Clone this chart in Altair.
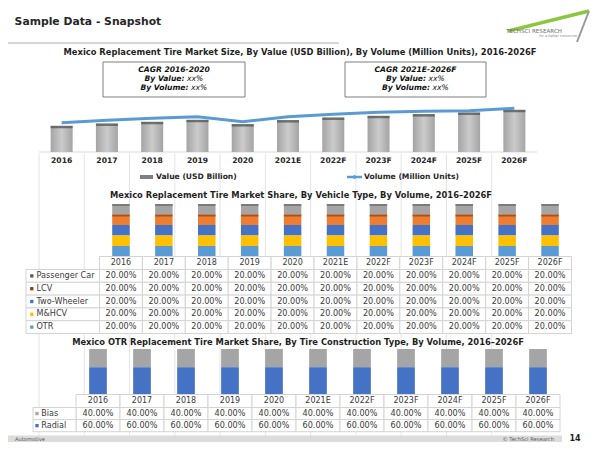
import altair as alt
import pandas as pd

FONT = "DejaVu Sans"
OX, OY = 8, 8  # page margin offset


def px(v):
    return v - OX


def py(v):
    return v - OY


# ---------------- data ----------------
years = ["2016", "2017", "2018", "2019", "2020", "2021E", "2022F", "2023F", "2024F", "2025F", "2026F"]
value_usd_bn = [2.60, 2.83, 3.00, 3.20, 2.77, 3.17, 3.43, 3.60, 3.77, 3.93, 4.20]
volume_mn_units = [29.3, 31.7, 33.7, 35.3, 30.3, 35.3, 37.7, 39.7, 40.7, 41.3, 43.7]

vehicle_types = ["Passenger Car", "LCV", "Two-Wheeler", "M&HCV", "OTR"]
share_passenger_car = [20.0, 20.0, 20.0, 20.0, 20.0, 20.0, 20.0, 20.0, 20.0, 20.0, 20.0]
share_lcv = [20.0, 20.0, 20.0, 20.0, 20.0, 20.0, 20.0, 20.0, 20.0, 20.0, 20.0]
share_two_wheeler = [20.0, 20.0, 20.0, 20.0, 20.0, 20.0, 20.0, 20.0, 20.0, 20.0, 20.0]
share_mhcv = [20.0, 20.0, 20.0, 20.0, 20.0, 20.0, 20.0, 20.0, 20.0, 20.0, 20.0]
share_otr = [20.0, 20.0, 20.0, 20.0, 20.0, 20.0, 20.0, 20.0, 20.0, 20.0, 20.0]
vehicle_fill = ["#A5A5A5", "#ED7D31", "#4472C4", "#FFC000", "#5B9BD5"]
vehicle_marker = ["#5A5A5A", "#8A3E12", "#4472C4", "#FFC000", "#5B9BD5"]

construction_types = ["Bias", "Radial"]
share_bias = [40.0, 40.0, 40.0, 40.0, 40.0, 40.0, 40.0, 40.0, 40.0, 40.0, 40.0]
share_radial = [60.0, 60.0, 60.0, 60.0, 60.0, 60.0, 60.0, 60.0, 60.0, 60.0, 60.0]
construction_fill = ["#A5A5A5", "#4472C4"]

slide_title = "Sample Data - Snapshot"
title_1 = "Mexico Replacement Tire Market Size, By Value (USD Billion), By Volume (Million Units), 2016-2026F"
title_2 = "Mexico Replacement Tire Market Share, By Vehicle Type, By Volume, 2016\u20132026F"
title_3 = "Mexico OTR Replacement Tire Market Share, By Tire Construction Type, By Volume, 2016\u20132026F"
legend_1 = ["Value (USD Billion)", "Volume (Million Units)"]
cagr_titles = ["CAGR 2016-2020", "CAGR 2021E-2026F"]

GRID = "#D4D4D4"
TXT = "#3A3A3A"
TITLE_SIZE = 8.35
dummy = pd.DataFrame({"k": [0]})


def text_at(s, x, y, size, weight="normal", style="normal", align="center", color="#1F1F1F"):
    return alt.Chart(dummy).mark_text(
        text=s, font=FONT, fontSize=size, fontWeight=weight, fontStyle=style,
        align=align, baseline="middle", color=color
    ).encode(x=alt.value(px(x)), y=alt.value(py(y)))


def box(x0, y0, x1, y1, fill, stroke=None, sw=1.0):
    kw = dict(fill=fill)
    if stroke:
        kw.update(stroke=stroke, strokeWidth=sw)
    return alt.Chart(dummy).mark_rect(**kw).encode(
        x=alt.value(px(x0)), x2=alt.value(px(x1)), y=alt.value(py(y0)), y2=alt.value(py(y1))
    )


def seg(x0, y0, x1, y1, color, sw):
    return alt.Chart(dummy).mark_rule(color=color, strokeWidth=sw).encode(
        x=alt.value(px(x0)), x2=alt.value(px(x1)), y=alt.value(py(y0)), y2=alt.value(py(y1))
    )


layers = []

# ---------------- header ----------------
layers.append(text_at(slide_title, 14.6, 22, 10.8, weight="bold", align="left", color="#262626"))
layers.append(seg(0, 43, 339, 43, "#C8C8C8", 1.5))
layers.append(seg(508, 31, 589, 11, "#8DC63F", 3.5))
layers.append(seg(589, 11, 577, 42, "#9A9A9A", 2))
layers.append(text_at("TECHSCI RESEARCH", 506, 30.5, 5.6, align="left", color="#707070"))
layers.append(text_at("for a better tomorrow", 577, 35.5, 3.5, style="italic", align="right", color="#8A8A8A"))

# ---------------- chart 1 ----------------
layers.append(text_at(title_1, 300, 52, TITLE_SIZE, weight="bold"))

for cx, x0, x1, ttl, d1, d2 in [(174, 103, 245, cagr_titles[0], 10.5, 14.5),
                                (415.5, 345, 486, cagr_titles[1], 10.5, 14.5)]:
    layers.append(box(x0, 62, x1, 97, "white", "#7F7F7F", 1))
    layers.append(text_at(ttl, cx, 70, 7.6, weight="bold", style="italic", color="#111111"))
    layers.append(text_at("By Value:", cx + d1, 79, 7.6, weight="bold", style="italic", align="right", color="#111111"))
    layers.append(text_at("xx%", cx + d1 + 2.5, 79, 7.6, style="italic", align="left", color="#111111"))
    layers.append(text_at("By Volume:", cx + d2, 88, 7.6, weight="bold", style="italic", align="right", color="#111111"))
    layers.append(text_at("xx%", cx + d2 + 2.5, 88, 7.6, style="italic", align="left", color="#111111"))

df1 = pd.DataFrame({"year": years, "value": value_usd_bn, "volume": volume_mn_units})
x1_band = alt.Scale(type="band", domain=years, range=[px(39), px(537)], paddingInner=0, paddingOuter=0)
x1_point = alt.Scale(type="point", domain=years, range=[px(39), px(537)], padding=0.5)
y_val = alt.Scale(domain=[0, 5], range=[py(152), py(102)])
y_vol = alt.Scale(domain=[0, 50], range=[py(152), py(102)])

bar_grad = alt.LinearGradient(
    gradient="linear",
    stops=[alt.GradientStop(color="#A4A4A4", offset=0),
           alt.GradientStop(color="#CBCBCB", offset=0.5),
           alt.GradientStop(color="#A4A4A4", offset=1)],
    x1=0, x2=1, y1=0, y2=0,
)
layers.append(seg(39, 152, 537, 152, "#D9D9D9", 1))
layers.append(alt.Chart(df1).mark_tick(size=3, thickness=1, color="#D9D9D9", yOffset=1.5).encode(
    x=alt.X("year:O", scale=x1_band, axis=None, bandPosition=0),
    y=alt.value(py(152))))
layers.append(alt.Chart(df1).mark_bar(width=22, color=bar_grad).encode(
    x=alt.X("year:O", scale=x1_band, axis=None),
    y=alt.Y("value:Q", scale=y_val, axis=None)))
layers.append(alt.Chart(df1).mark_tick(size=22, thickness=2.5, color="#4A4A4A", yOffset=1).encode(
    x=alt.X("year:O", scale=x1_point, axis=None),
    y=alt.Y("value:Q", scale=y_val, axis=None)))
layers.append(alt.Chart(df1).mark_line(color="#5B9BD5", strokeWidth=3).encode(
    x=alt.X("year:O", scale=x1_point, axis=None),
    y=alt.Y("volume:Q", scale=y_vol, axis=None)))
layers.append(alt.Chart(df1).mark_text(font=FONT, fontSize=7.6, fontWeight="bold", color="#262626",
                                       baseline="middle").encode(
    x=alt.X("year:O", scale=x1_point, axis=None),
    y=alt.value(py(161)), text="year:N"))

# legend chart 1
layers.append(box(140, 175, 153, 179, "#808080"))
layers.append(text_at(legend_1[0], 156, 177, 7.6, weight="bold", align="left", color="#262626"))
layers.append(seg(347, 177, 362, 177, "#5B9BD5", 2.5))
layers.append(alt.Chart(dummy).mark_point(shape="diamond", filled=True, size=22, color="#5B9BD5", opacity=1).encode(
    x=alt.value(px(354.5)), y=alt.value(py(177))))
layers.append(text_at(legend_1[1], 364, 177, 7.6, weight="bold", align="left", color="#262626"))


# ---------------- share panels ----------------
def share_panel(types, shares, fills, markers, caps, x0, x1, bar_top, bar_bottom, bar_w,
                head_bottom, rows_bottom, lab_left, marker_x, lab_x):
    out = []
    recs = []
    for k, t in enumerate(types):
        for j, yr in enumerate(years):
            recs.append({"year": yr, "series": t, "share": shares[k][j], "ord": len(types) - 1 - k})
    df = pd.DataFrame(recs)
    dfy = pd.DataFrame({"year": years})
    dft = pd.DataFrame({"series": types})
    xb = alt.Scale(type="band", domain=years, range=[px(x0), px(x1)], paddingInner=0, paddingOuter=0)
    xp = alt.Scale(type="point", domain=years, range=[px(x0), px(x1)], padding=0.5)
    yb = alt.Scale(domain=[0, 100], range=[py(bar_bottom), py(bar_top)])
    rb = alt.Scale(type="band", domain=types, range=[py(head_bottom), py(rows_bottom)],
                   paddingInner=0, paddingOuter=0)
    rp = alt.Scale(type="point", domain=types, range=[py(head_bottom), py(rows_bottom)], padding=0.5)
    col = alt.Scale(domain=types, range=fills)
    mcol = alt.Scale(domain=types, range=markers)

    stacked = alt.Chart(df).transform_stack(
        stack="share", groupby=["year"], sort=[alt.SortField("ord", order="ascending")], as_=["y0", "y1"])
    out.append(stacked.mark_bar(width=bar_w).encode(
        x=alt.X("year:O", scale=xb, axis=None),
        y=alt.Y("y0:Q", scale=yb, axis=None), y2="y1:Q",
        color=alt.Color("series:N", scale=col, legend=None)))
    if caps:
        cap_types = list(caps.keys())
        out.append(stacked.transform_filter(alt.FieldOneOfPredicate(field="series", oneOf=cap_types))
                   .mark_tick(size=bar_w, thickness=2, yOffset=1).encode(
            x=alt.X("year:O", scale=xp, axis=None),
            y=alt.Y("y1:Q", scale=yb, axis=None),
            color=alt.Color("series:N", scale=alt.Scale(domain=cap_types, range=list(caps.values())),
                            legend=None)))
    # header row
    out.append(alt.Chart(dfy).mark_rect(fill="white", stroke=GRID, strokeWidth=1).encode(
        x=alt.X("year:O", scale=xb, axis=None),
        y=alt.value(py(bar_bottom)), y2=alt.value(py(head_bottom))))
    out.append(alt.Chart(dfy).mark_text(font=FONT, fontSize=8, color=TXT, baseline="middle").encode(
        x=alt.X("year:O", scale=xp, axis=None),
        y=alt.value(py((bar_bottom + head_bottom) / 2 + 0.3)), text="year:N"))
    # body
    out.append(alt.Chart(df).mark_rect(fill="white", stroke=GRID, strokeWidth=1).encode(
        x=alt.X("year:O", scale=xb, axis=None),
        y=alt.Y("series:N", scale=rb, axis=None)))
    out.append(alt.Chart(df).transform_calculate(lab="format(datum.share, '.2f') + '%'")
               .mark_text(font=FONT, fontSize=8.1, color=TXT, baseline="middle").encode(
        x=alt.X("year:O", scale=xp, axis=None),
        y=alt.Y("series:N", scale=rp, axis=None), text="lab:N"))
    # row labels
    out.append(alt.Chart(dft).mark_rect(fill="white", stroke=GRID, strokeWidth=1).encode(
        x=alt.value(px(lab_left)), x2=alt.value(px(x0)),
        y=alt.Y("series:N", scale=rb, axis=None)))
    out.append(alt.Chart(dft).mark_square(size=11, filled=True, opacity=1).encode(
        x=alt.value(px(marker_x)),
        y=alt.Y("series:N", scale=rp, axis=None),
        color=alt.Color("series:N", scale=mcol, legend=None)))
    out.append(alt.Chart(dft).mark_text(font=FONT, fontSize=8.1, color=TXT, align="left", baseline="middle").encode(
        x=alt.value(px(lab_x)),
        y=alt.Y("series:N", scale=rp, axis=None), text="series:N"))
    return out


# chart 2
layers.append(text_at(title_2, 301, 195, TITLE_SIZE, weight="bold"))
layers += share_panel(
    vehicle_types,
    [share_passenger_car, share_lcv, share_two_wheeler, share_mhcv, share_otr],
    vehicle_fill, vehicle_marker, {"Passenger Car": "#6A6A6A", "LCV": "#8A3E12"},
    x0=99.5, x1=571.5, bar_top=204, bar_bottom=256.5, bar_w=17.5,
    head_bottom=269.5, rows_bottom=333.5, lab_left=26, marker_x=31.8, lab_x=36.5)

# chart 3
layers.append(text_at(title_3, 298, 342, TITLE_SIZE, weight="bold"))
layers += share_panel(
    construction_types, [share_bias, share_radial],
    construction_fill, construction_fill, None,
    x0=76, x1=560, bar_top=349, bar_bottom=394.5, bar_w=17.7,
    head_bottom=407.5, rows_bottom=431.7, lab_left=33, marker_x=37, lab_x=41.3)

# ---------------- footer ----------------
layers.append(box(0, 435.5, 562, 442, "#DCDCDC"))
layers.append(text_at("Automotive", 15, 439, 5.2, align="left", color="#595959"))
layers.append(text_at("\u00a9 TechSci Research", 554, 439, 5.2, align="right", color="#595959"))
layers.append(text_at("14", 575, 438.5, 8, weight="bold", color="#1F1F1F"))

chart = (
    alt.layer(*layers)
    .resolve_scale(x="independent", y="independent", color="independent")
    .properties(width=584, height=434, padding=0, autosize=alt.AutoSizeParams(type="none"))
    .configure_view(stroke=None)
)

chart.save("out.html", embed_options={"renderer": "svg", "actions": False})
